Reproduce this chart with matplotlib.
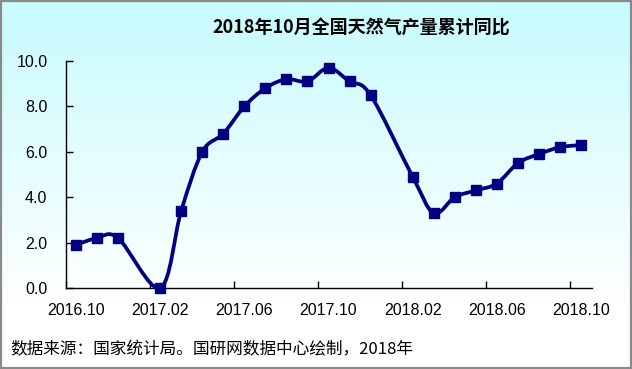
import numpy as np
import matplotlib
matplotlib.use("Agg")
import matplotlib.pyplot as plt
from matplotlib.path import Path
from matplotlib.patches import PathPatch, Rectangle

plt.rcParams['font.family'] = ['Liberation Sans', 'Noto Sans CJK SC', 'DejaVu Sans']

# ---- data ----
categories = ["2016.10", "2016.11", "2016.12", "2017.01", "2017.02", "2017.03",
              "2017.04", "2017.05", "2017.06", "2017.07", "2017.08", "2017.09",
              "2017.10", "2017.11", "2017.12", "2018.01", "2018.02", "2018.03",
              "2018.04", "2018.05", "2018.06", "2018.07", "2018.08", "2018.09",
              "2018.10"]
values = [1.9, 2.2, 2.2, None, 0.0, 3.4,
          6.0, 6.8, 8.0, 8.8, 9.2, 9.1,
          9.7, 9.1, 8.5, None, 4.9, 3.3,
          4.0, 4.3, 4.6, 5.5, 5.9, 6.2,
          6.3]
tick_labels = ["2016.10", "2017.02", "2017.06", "2017.10", "2018.02", "2018.06", "2018.10"]
yticks = [0, 2, 4, 6, 8, 10]
title = "2018年10月全国天然气产量累计同比"
source = "数据来源：国家统计局。国研网数据中心绘制，2018年"

W, H = 632, 369
fig = plt.figure(figsize=(W / 100, H / 100), dpi=100)

# background gradient
bg = fig.add_axes([0, 0, 1, 1], zorder=-10)
bg.set_axis_off()
t = np.linspace(0, 1, 256)[:, None]
top = np.array([0.78, 0.985, 0.995])
frac = np.clip(t / 0.82, 0, 1)
img = top[None, None, :] * (1 - frac[..., None]) + np.ones(3)[None, None, :] * frac[..., None]
img = np.repeat(img, 4, axis=1)
bg.imshow(img, aspect='auto', extent=[0, 1, 0, 1], origin='upper')
bg.set_xlim(0, 1)
bg.set_ylim(0, 1)
bg.add_patch(Rectangle((0.001, 0.002), 0.997, 0.995, fill=False,
                       edgecolor='#8a8a8a', linewidth=1.6, transform=bg.transAxes))

ax = fig.add_axes([65.5 / W, (H - 288) / H, 526 / W, 227 / H])
ax.patch.set_alpha(0)

xs = np.array([i for i, v in enumerate(values) if v is not None], dtype=float)
ys = np.array([v for v in values if v is not None], dtype=float)

# smoothed line (Catmull-Rom style Bezier, like a spreadsheet "smoothed line")
pts = np.column_stack([xs, ys])
verts = [pts[0]]
codes = [Path.MOVETO]
n = len(pts)
for i in range(n - 1):
    p0 = pts[i - 1] if i > 0 else pts[i]
    p1 = pts[i]
    p2 = pts[i + 1]
    p3 = pts[i + 2] if i + 2 < n else pts[i + 1]
    c1 = p1 + (p2 - p0) / 6.0
    c2 = p2 - (p3 - p1) / 6.0
    verts += [c1, c2, p2]
    codes += [Path.CURVE4] * 3
path = Path(verts, codes)
ax.add_patch(PathPatch(path, facecolor='none', edgecolor='#000080', linewidth=2.7,
                       clip_on=False, zorder=3, capstyle='round', joinstyle='round'))
ax.plot(xs, ys, linestyle='none', marker='s', markersize=6.6, color='#000080',
        clip_on=False, zorder=4)

ax.set_xlim(-0.5, len(categories) - 0.5)
ax.set_ylim(0, 10)

for s in ['top', 'right']:
    ax.spines[s].set_visible(False)
for s in ['left', 'bottom']:
    ax.spines[s].set_color('black')
    ax.spines[s].set_linewidth(1.0)

label_pos = [categories.index(l) for l in tick_labels]
ax.set_xticks(label_pos)
ax.set_xticklabels(tick_labels, fontsize=11.5)
ax.set_xticks(np.arange(-0.5, len(categories), 4), minor=True)
ax.tick_params(axis='x', which='major', length=0, pad=11)
ax.tick_params(axis='x', which='minor', direction='in', length=5, width=1, color='black')

ax.set_yticks(yticks)
ax.set_yticklabels([f"{v:.1f}" for v in yticks], fontsize=11.5)
ax.tick_params(axis='y', direction='in', length=5, width=1, pad=13, color='black')

fig.text(361 / W, 1 - 28 / H, title, ha='center', va='center', fontsize=13,
         fontweight='bold', family=['Noto Sans CJK SC', 'DejaVu Sans'])
fig.text(10 / W, 1 - 350 / H, source, ha='left', va='center', fontsize=12,
         family=['Noto Sans CJK SC', 'DejaVu Sans'])

fig.savefig("out.png", dpi=100)
